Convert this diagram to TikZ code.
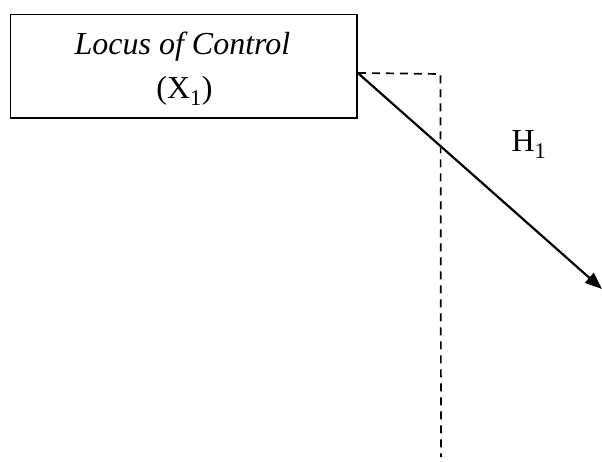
\documentclass[tikz,border=0pt]{standalone}
\usepackage{fontspec}
\setmainfont{Liberation Serif}
\usetikzlibrary{arrows.meta,calc}
\tikzset{
  varbox/.style={draw=black,line width=1.6pt,minimum width=346.5pt,minimum height=103.3pt,inner sep=0pt},
  lbl/.style={font=\fontsize{32}{32}\selectfont,inner sep=0pt,anchor=base},
  dashline/.style={line width=1.7pt,dash pattern=on 8pt off 6pt},
  pathline/.style={line width=2.2pt,-{Triangle[length=17pt,width=13pt]}}
}
\begin{document}
\begin{tikzpicture}[x=1pt,y=1pt]
\useasboundingbox (0,0) rectangle (602,-462);
\node[varbox] (x1) at (183.75,-66.35) {};
\node[lbl] (t1) at (182.5,-55) {\itshape Locus of Control};
\node[lbl] (t2) at (184.5,-99) {(X\textsubscript{1})};
\coordinate (s) at ([yshift=-6.6pt]x1.east);
\coordinate (c) at (440.5,-74);
\coordinate (d) at (441,-457);
\coordinate (e) at (602,-289);
\draw[dashline] (s) -- (c) -- (d);
\draw[pathline] (s) -- (e);
\node[lbl] (h1) at (529,-152) {H\textsubscript{1}};
\end{tikzpicture}
\end{document}
